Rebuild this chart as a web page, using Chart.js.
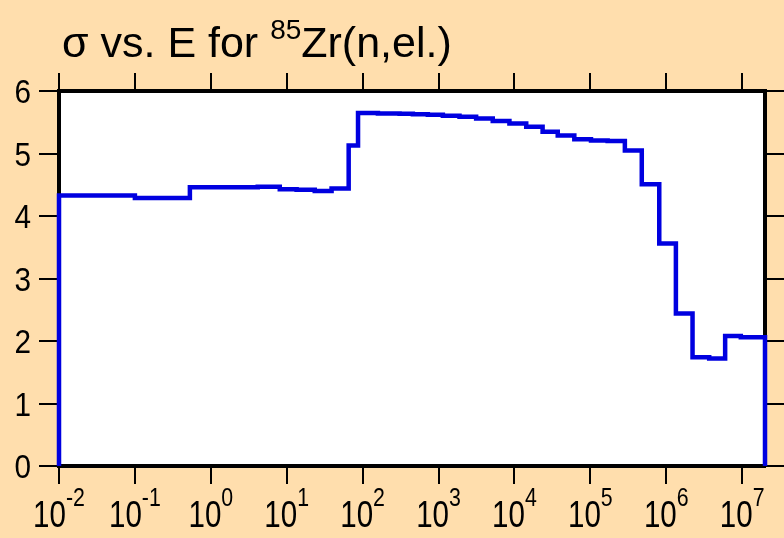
<!DOCTYPE html>
<html>
<head>
<meta charset="utf-8">
<script src="https://cdn.jsdelivr.net/npm/chart.js@4.4.0/dist/chart.umd.min.js"></script>
<style>
  html, body { margin: 0; padding: 0; background: #ffdead; }
</style>
</head>
<body>
<canvas id="xsChart" width="784" height="538"></canvas>
<script>
// group start energies (eV) and elastic cross section (b) held until the next one
const energies = [0.01, 0.1, 0.53, 4.15, 8.1, 13.5, 23.4, 39, 65.5, 87,
    159, 307, 459, 723, 1140, 1890, 3130, 5180, 8590, 14300,
    23500, 37200, 61500, 102000, 169000, 285000, 476000, 809000, 1.34e6, 2.22e6,
    3.68e6, 5.97e6, 9.6e6];
const sigma = [4.33, 4.29, 4.46, 4.47, 4.43, 4.42, 4.40, 4.44, 5.13, 5.65,
    5.64, 5.635, 5.63, 5.62, 5.605, 5.59, 5.56, 5.52, 5.48, 5.43,
    5.35, 5.29, 5.23, 5.21, 5.20, 5.05, 4.51, 3.56, 2.44, 1.74,
    1.72, 2.08, 2.06];
const eMin = 0.01;
const eMax = 2e7;
const decades = [-2, -1, 0, 1, 2, 3, 4, 5, 6, 7];
const yTicks = [0, 1, 2, 3, 4, 5, 6];

const FONT = '"Liberation Sans", Arial, Helvetica, sans-serif';

// build the step outline: rise from 0 at eMin, drop back to 0 at eMax
const points = [{ x: eMin, y: 0 }];
energies.forEach((e, i) => points.push({ x: e, y: sigma[i] }));
points.push({ x: eMax, y: sigma[sigma.length - 1] });
points.push({ x: eMax, y: 0 });

const decadeTicks = () => decades.map(d => ({ value: Math.pow(10, d) }));

const backdrop = {
    id: 'backdrop',
    beforeDraw(chart) {
        const { ctx, chartArea: a } = chart;
        ctx.save();
        ctx.fillStyle = '#ffdead';
        ctx.fillRect(0, 0, chart.width, chart.height);
        ctx.fillStyle = '#ffffff';
        ctx.fillRect(a.left, a.top, a.right - a.left, a.bottom - a.top);
        ctx.restore();
    }
};

// narrow-looking text: squeeze horizontally
function squeezed(ctx, text, x, y, sx) {
    ctx.save();
    ctx.translate(x, y);
    ctx.scale(sx, 1);
    ctx.fillText(text, 0, 0);
    ctx.restore();
    return ctx.measureText(text).width * sx;
}

// title, y labels and 10^n labels (superscripts) drawn by hand
const labels = {
    id: 'labels',
    afterDraw(chart) {
        const ctx = chart.ctx;
        ctx.save();
        ctx.fillStyle = '#000';
        ctx.textBaseline = 'alphabetic';
        ctx.textAlign = 'left';

        // title
        let x = 62;
        const base = 57;
        const tsx = 1;
        ctx.font = '43px ' + FONT;
        x += squeezed(ctx, '\u03c3 vs. E for ', x, base, tsx);
        ctx.font = '28px ' + FONT;
        x += squeezed(ctx, '85', x, base - 18, tsx);
        ctx.font = '43px ' + FONT;
        squeezed(ctx, 'Zr(n,el.)', x, base, tsx);

        // y tick labels
        const ys = chart.scales.y;
        ctx.font = '33px ' + FONT;
        yTicks.forEach(v => {
            const w = ctx.measureText(String(v)).width * 0.9;
            squeezed(ctx, String(v), 31 - w, ys.getPixelForValue(v) + 12, 0.9);
        });

        // x tick labels
        const xs = chart.scales.x;
        const sx = 0.82;
        decades.forEach(d => {
            const px = xs.getPixelForValue(Math.pow(10, d));
            const exp = String(d);
            ctx.font = '36px ' + FONT;
            const w1 = ctx.measureText('10').width * sx;
            ctx.font = '26px ' + FONT;
            const w2 = ctx.measureText(exp).width * sx;
            const left = px - (w1 + w2) / 2;
            ctx.font = '36px ' + FONT;
            squeezed(ctx, '10', left, 527, sx);
            ctx.font = '26px ' + FONT;
            squeezed(ctx, exp, left + w1, 506, sx);
        });
        ctx.restore();
    }
};

const tickGrid = len => ({
    drawOnChartArea: false,
    drawTicks: true,
    tickLength: len,
    lineWidth: 2,
    color: '#000'
});
const frame = { display: true, width: 4, color: '#000' };

new Chart(document.getElementById('xsChart').getContext('2d'), {
    type: 'line',
    data: {
        datasets: [{
            data: points,
            stepped: 'before',
            borderColor: '#0000e0',
            borderWidth: 4.5,
            pointRadius: 0,
            fill: false,
            clip: false
        }]
    },
    options: {
        responsive: false,
        animation: false,
        devicePixelRatio: 1,
        layout: { padding: 0 },
        plugins: {
            legend: { display: false },
            tooltip: { enabled: false }
        },
        scales: {
            x: {
                type: 'logarithmic',
                position: 'bottom',
                min: eMin,
                max: eMax,
                afterBuildTicks: s => { s.ticks = decadeTicks(); },
                afterFit: s => { s.height = 72; },
                ticks: { display: false },
                grid: tickGrid(18),
                border: frame
            },
            xTop: {
                type: 'logarithmic',
                position: 'top',
                min: eMin,
                max: eMax,
                afterBuildTicks: s => { s.ticks = decadeTicks(); },
                afterFit: s => { s.height = 91; },
                ticks: { display: false },
                grid: tickGrid(18),
                border: frame
            },
            y: {
                type: 'linear',
                position: 'left',
                min: 0,
                max: 6,
                afterBuildTicks: s => { s.ticks = yTicks.map(v => ({ value: v })); },
                afterFit: s => { s.width = 59; },
                ticks: { display: false },
                grid: tickGrid(20),
                border: frame
            },
            yRight: {
                type: 'linear',
                position: 'right',
                min: 0,
                max: 6,
                afterBuildTicks: s => { s.ticks = yTicks.map(v => ({ value: v })); },
                afterFit: s => { s.width = 19; },
                ticks: { display: false },
                grid: tickGrid(19),
                border: frame
            }
        }
    },
    plugins: [backdrop, labels]
});
</script>
</body>
</html>
